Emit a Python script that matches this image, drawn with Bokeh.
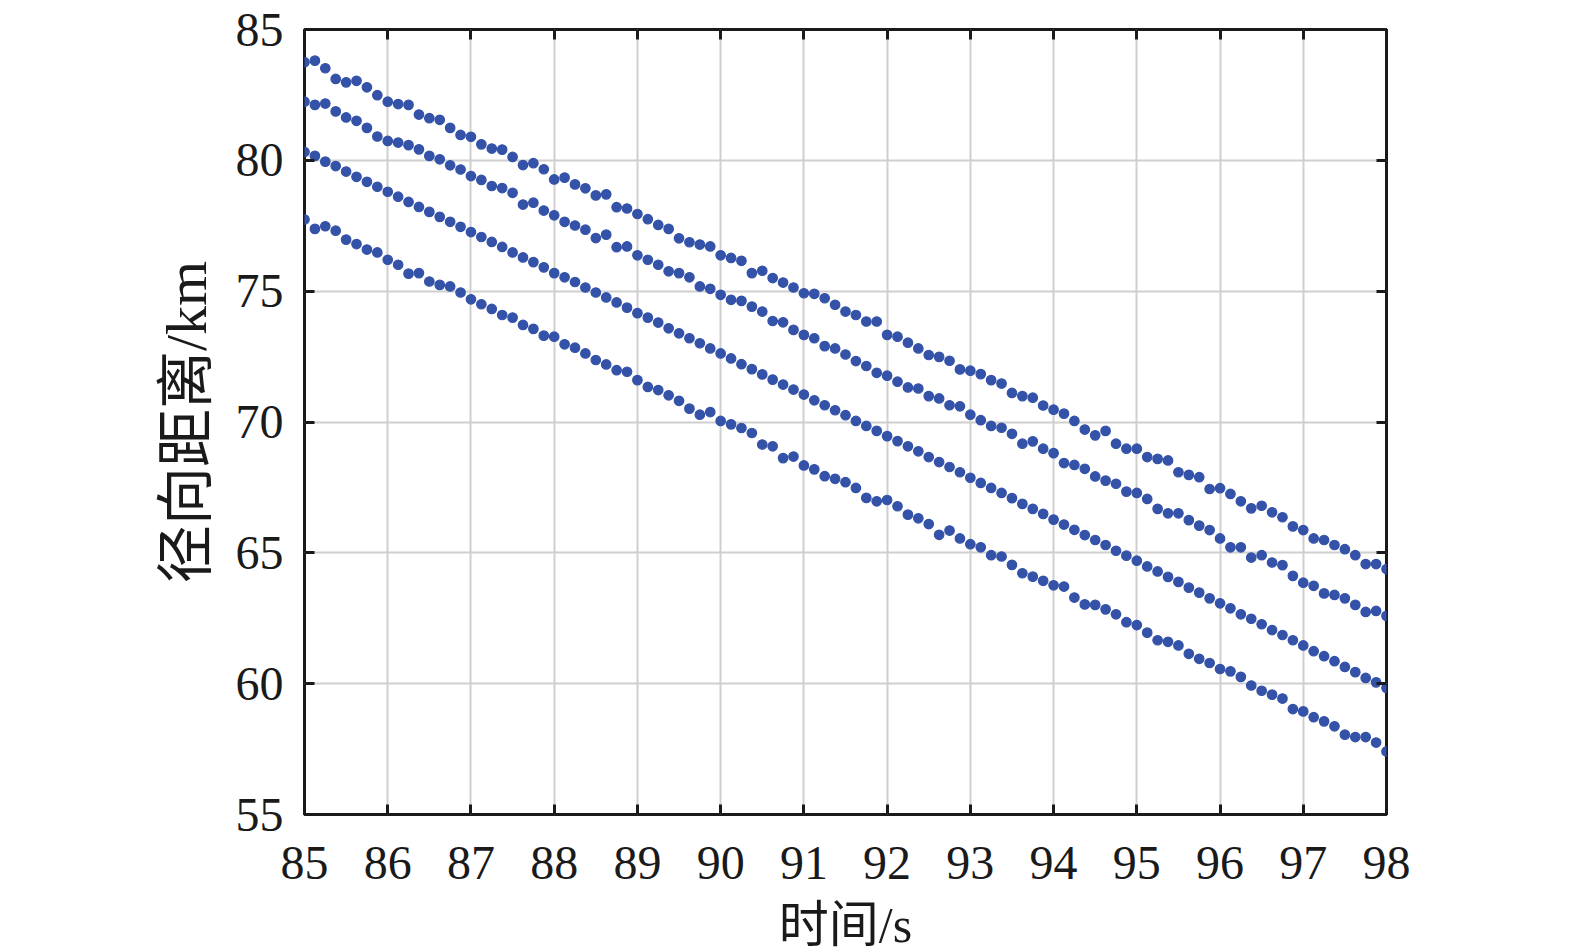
from bokeh.plotting import figure
from bokeh.models import Range1d, LinearAxis, FixedTicker, ColumnDataSource
from bokeh.embed import file_html
from bokeh.resources import INLINE

# time samples (s), 0.125 s step from 85 to 98
time_s = [85 + 0.125 * i for i in range(105)]

range_1 = [83.75, 83.81, 83.52, 83.11, 82.98, 83.04, 82.79, 82.49, 82.24, 82.15, 82.12, 81.75, 81.61, 81.55, 81.24, 80.97, 80.90, 80.61, 80.45, 80.41, 80.13,
           79.82, 79.89, 79.66, 79.27, 79.34, 79.08, 78.93, 78.66, 78.70, 78.21, 78.16, 77.95, 77.75, 77.53, 77.38, 77.02, 76.87, 76.78, 76.71, 76.37, 76.27,
           76.16, 75.69, 75.78, 75.50, 75.33, 75.14, 74.92, 74.90, 74.73, 74.48, 74.22, 74.09, 73.84,
           73.84, 73.33, 73.26, 73.03, 72.81, 72.56, 72.49, 72.34, 72.01, 71.96, 71.83, 71.60, 71.47, 71.11, 70.99, 70.93, 70.63, 70.47, 70.32, 70.04, 69.71,
           69.49, 69.66, 69.17, 68.98, 68.98, 68.66, 68.59, 68.53, 68.08, 67.98, 67.89, 67.44, 67.47, 67.25, 66.97,
           66.70, 66.80, 66.55, 66.36, 66.01, 65.87, 65.55, 65.49, 65.30, 65.14, 64.91, 64.57, 64.57, 64.38]

range_2 = [82.24, 82.12, 82.17, 81.87, 81.64, 81.51, 81.24, 80.91, 80.74, 80.68, 80.58, 80.42, 80.17, 80.04, 79.81, 79.65, 79.40, 79.25, 79.02, 78.94, 78.76,
           78.31, 78.38, 78.08, 77.90, 77.65, 77.51, 77.35, 77.03, 77.16, 76.68, 76.71, 76.37, 76.20, 76.01, 75.76, 75.69, 75.53, 75.18, 75.09, 74.86, 74.67,
           74.63, 74.41, 74.22, 73.86, 73.81, 73.52, 73.33, 73.20, 72.90, 72.81, 72.58, 72.33, 72.14,
           71.88, 71.77, 71.54, 71.32, 71.28, 70.99, 70.90, 70.64, 70.60, 70.28, 70.07, 69.85, 69.78, 69.55, 69.17, 69.26, 68.98, 68.81, 68.43, 68.36, 68.21,
           67.92, 67.76, 67.64, 67.34, 67.29, 67.06, 66.68, 66.51, 66.51, 66.25, 66.04, 65.87,
           65.55, 65.21, 65.21, 64.82, 64.91, 64.63, 64.53, 64.12, 63.86, 63.74, 63.45, 63.39, 63.26, 63.01, 62.74, 62.78, 62.59]

range_3 = [80.32, 80.17, 79.95, 79.78, 79.57, 79.37, 79.18, 78.99, 78.80, 78.61, 78.41, 78.22, 78.03, 77.84, 77.65, 77.46, 77.26, 77.07, 76.88, 76.69, 76.48,
           76.29, 76.11, 75.91, 75.69, 75.53, 75.35, 75.14, 74.95, 74.76, 74.57, 74.37, 74.16, 73.99, 73.80, 73.58, 73.39, 73.20, 73.01, 72.81, 72.62, 72.43,
           72.21, 72.02, 71.82, 71.62, 71.43, 71.24, 71.05, 70.83, 70.64, 70.45, 70.26, 70.04, 69.85,
           69.66, 69.46, 69.27, 69.07, 68.88, 68.66, 68.47, 68.28, 68.08, 67.87, 67.67, 67.48, 67.29, 67.09, 66.87, 66.68, 66.49, 66.27, 66.08, 65.88, 65.68,
           65.49, 65.30, 65.08, 64.89, 64.70, 64.48, 64.29, 64.08, 63.89, 63.67, 63.48, 63.26, 63.07,
           62.88, 62.65, 62.48, 62.27, 62.05, 61.86, 61.66, 61.46, 61.24, 61.05, 60.86, 60.64, 60.44, 60.22, 60.05, 59.84]

range_4 = [77.74, 77.38, 77.48, 77.31, 76.97, 76.80, 76.59, 76.48, 76.20, 76.01, 75.67, 75.69, 75.37, 75.24, 75.18, 74.95, 74.69,
           74.50, 74.32, 74.09,
           73.99, 73.71, 73.56, 73.30, 73.26, 72.97, 72.84, 72.62, 72.37, 72.20, 71.98, 71.92, 71.60, 71.34, 71.22,
           71.02, 70.81, 70.51, 70.28, 70.38, 70.04, 69.91, 69.77, 69.58, 69.14, 69.07, 68.62, 68.68, 68.34, 68.19, 67.93, 67.83, 67.70, 67.48, 67.10,
           66.97, 67.02, 66.78, 66.46, 66.32, 66.10, 65.69, 65.85, 65.55, 65.33, 65.21, 64.91, 64.86, 64.54, 64.22, 64.09, 63.93, 63.76, 63.71,
           63.29, 63.03, 63.01, 62.84, 62.65, 62.35, 62.24, 61.95, 61.66, 61.60, 61.46, 61.14, 60.95, 60.79,
           60.56, 60.47, 60.26, 59.93, 59.73, 59.58, 59.43, 59.03, 58.94, 58.72, 58.56, 58.37, 58.05, 57.96, 57.96, 57.75, 57.41]

x_ticks = list(range(85, 99))
y_ticks = [55, 60, 65, 70, 75, 80, 85]
x_label = "时间/s"
y_label = "径向距离/km"

DOT = "#3352a8"
INK = "#1a1a1a"
TICK_FONT = "Liberation Serif"
LABEL_FONT = "Liberation Serif, Noto Sans CJK SC"

p = figure(frame_width=1082, frame_height=785,
           x_range=Range1d(85, 98), y_range=Range1d(55, 85),
           output_backend="svg", toolbar_location=None,
           min_border_left=304, min_border_top=29,
           min_border_right=40, min_border_bottom=134)
p.background_fill_color = "white"
p.border_fill_color = "white"
p.outline_line_color = INK
p.outline_line_width = 3

xt = FixedTicker(ticks=x_ticks)
yt = FixedTicker(ticks=y_ticks)
p.xaxis.ticker = xt
p.yaxis.ticker = yt
p.xgrid.ticker = xt
p.ygrid.ticker = yt
p.grid.grid_line_color = "#cfcfcf"
p.grid.grid_line_width = 2

for ax in (p.xaxis[0], p.yaxis[0]):
    ax.axis_line_color = None
    ax.major_tick_in = 10
    ax.major_tick_out = 0
    ax.major_tick_line_width = 3
    ax.major_tick_line_color = INK
    ax.minor_tick_line_color = None
    ax.major_label_text_font = TICK_FONT
    ax.major_label_text_font_size = "48px"
    ax.major_label_text_color = INK
    ax.axis_label_text_font = LABEL_FONT
    ax.axis_label_text_font_style = "normal"
    ax.axis_label_text_color = INK

p.xaxis.axis_label = x_label
p.yaxis.axis_label = y_label
p.xaxis.axis_label_text_font_size = "50px"
p.yaxis.axis_label_text_font_size = "58px"
p.xaxis.major_label_standoff = 32
p.yaxis.major_label_standoff = 21
p.xaxis.axis_label_standoff = 15
p.yaxis.axis_label_standoff = 14

top = LinearAxis(ticker=xt, major_label_overrides={t: "" for t in x_ticks})
right = LinearAxis(ticker=yt, major_label_overrides={t: "" for t in y_ticks})
for ax in (top, right):
    ax.axis_line_color = None
    ax.major_tick_in = 10
    ax.major_tick_out = 0
    ax.major_tick_line_width = 3
    ax.major_tick_line_color = INK
    ax.minor_tick_line_color = None
    ax.major_label_standoff = 0
p.add_layout(top, "above")
p.add_layout(right, "right")

for series in (range_1, range_2, range_3, range_4):
    src = ColumnDataSource(dict(t=time_s, r=series))
    p.scatter("t", "r", source=src, marker="circle", size=9.5,
              fill_color=DOT, line_color=DOT, line_width=1.2)

open("out.html", "w").write(file_html(p, INLINE))
